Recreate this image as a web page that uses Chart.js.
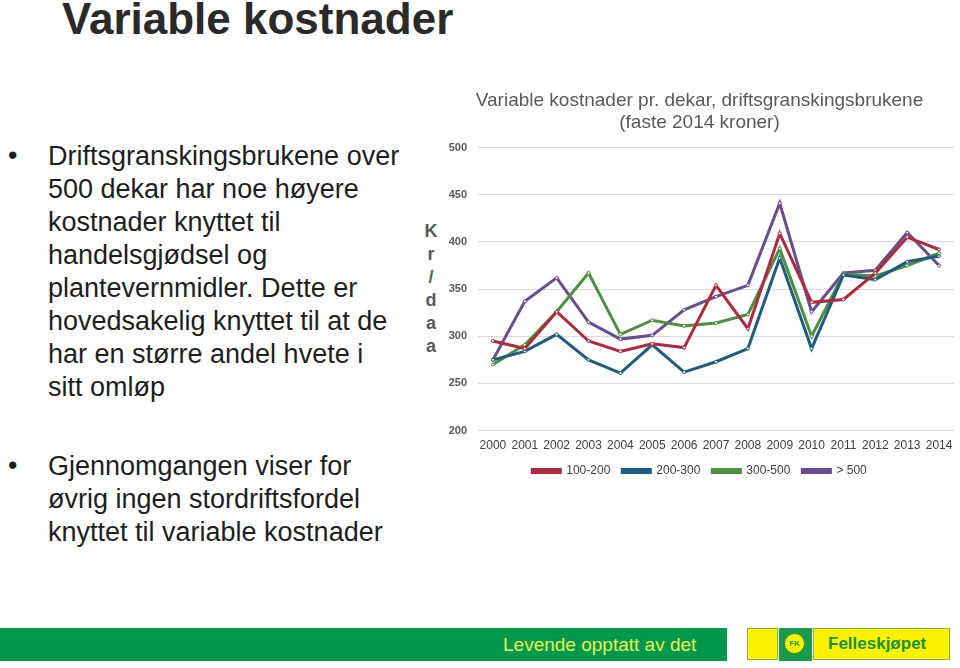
<!DOCTYPE html>
<html>
<head>
<meta charset="utf-8">
<script src="https://cdn.jsdelivr.net/npm/chart.js@4.4.1/dist/chart.umd.min.js"></script>
<style>
  html, body { margin: 0; padding: 0; background: #fff; }
  body { width: 960px; height: 668px; position: relative; overflow: hidden; font-family: "Liberation Sans", Arial, sans-serif; }
  .title { position: absolute; left: 62px; top: -3px; font-size: 44px; line-height: 44px; font-weight: bold; color: #2a2a2a; white-space: nowrap; }
  .para { position: absolute; left: 48px; font-size: 27px; line-height: 33px; color: #1e1e1e; white-space: nowrap; }
  .dot { position: absolute; left: 8px; font-size: 27px; line-height: 33px; color: #1e1e1e; }
  .unit { position: absolute; left: 423px; top: 220px; width: 16px; text-align: center; font-size: 18px; line-height: 23px; font-weight: bold; color: #595959; }
  #wrap { position: absolute; left: 440px; top: 88px; width: 520px; height: 401px; }
  .band { position: absolute; left: 0; top: 628px; width: 727px; height: 33px; background: #00994c; }
  .band span { position: absolute; left: 503px; top: 6px; font-size: 19px; color: #e8f055; }
  .logo { position: absolute; top: 628px; height: 32px; background: #fff200; border: 1px solid #7fb84a; box-sizing: border-box; }
  .fk { position: absolute; left: 779px; top: 628px; width: 33px; height: 33px; background: #1a9a4a; }
  .fk div { position: absolute; left: 5px; top: 5px; width: 21px; height: 21px; border-radius: 50%; background: #fff200; border: 1px solid #1a9a4a; box-sizing: border-box; font-size: 8px; font-weight: bold; color: #1a9a4a; text-align: center; line-height: 19px; }
  .logo span { position: absolute; left: 14px; top: 5px; font-size: 17px; font-weight: bold; color: #1a8f3e; }
</style>
</head>
<body>
<div class="title">Variable kostnader</div>

<div class="dot" style="top:139px">•</div>
<div class="para" style="top:140px">Driftsgranskingsbrukene over<br>500 dekar har noe høyere<br>kostnader knyttet til<br>handelsgjødsel og<br>plantevernmidler. Dette er<br>hovedsakelig knyttet til at de<br>har en større andel hvete i<br>sitt omløp</div>

<div class="dot" style="top:449px">•</div>
<div class="para" style="top:450px">Gjennomgangen viser for<br>øvrig ingen stordriftsfordel<br>knyttet til variable kostnader</div>

<div class="unit">K<br>r<br>/<br>d<br>a<br>a</div>

<div id="wrap"><canvas id="chart"></canvas></div>

<div class="band"><span>Levende opptatt av det</span></div>
<div class="logo" style="left:747px;width:31px"></div>
<div class="fk"><div>FK</div></div>
<div class="logo" style="left:813px;width:137px"><span>Felleskjøpet</span></div>

<script>
const years = ['2000','2001','2002','2003','2004','2005','2006','2007','2008','2009','2010','2011','2012','2013','2014'];
const size100to200 = [295, 287, 326, 295, 284, 292, 288, 354, 308, 409, 336, 339, 367, 405, 392];
const size200to300 = [275, 284, 302, 275, 261, 291, 262, 273, 287, 383, 287, 365, 360, 379, 385];
const size300to500 = [270, 291, 326, 367, 302, 317, 311, 314, 323, 393, 300, 366, 364, 375, 388];
const sizeOver500  = [275, 337, 362, 315, 297, 301, 328, 342, 354, 441, 326, 367, 370, 410, 375];
const yTicks = [200, 250, 300, 350, 400, 450, 500];

// SERIES
function series(label, values, color) {
    return {
        label: label,
        data: values,
        borderColor: color,
        backgroundColor: color,
        borderWidth: 3,
        pointRadius: 1.5,
        pointBorderWidth: 1,
        pointBackgroundColor: '#ffffff',
        pointBorderColor: color,
        tension: 0
    };
}

new Chart(
    document.getElementById('chart'),
    {
        type: 'line',
        data: {
            labels: years,
            datasets: [
                series('100-200', size100to200, '#b02a3e'),
                series('200-300', size200to300, '#1f5d80'),
                series('300-500', size300to500, '#4f8f42'),
                series('> 500', sizeOver500, '#6a4d8e')
            ]
        },
        options: {
            responsive: true,
            maintainAspectRatio: false,
            animation: false,
            layout: { padding: { left: 0, right: 1, top: 0, bottom: 2 } },
            plugins: {
                title: {
                    display: true,
                    text: ['Variable kostnader pr. dekar, driftsgranskingsbrukene', '(faste 2014 kroner)'],
                    color: '#595959',
                    font: { family: 'Liberation Sans', size: 19, weight: 'normal', lineHeight: 1.2 },
                    padding: { top: 1, bottom: 13 }
                },
                legend: {
                    position: 'bottom',
                    labels: {
                        boxWidth: 28,
                        boxHeight: 3,
                        padding: 12,
                        color: '#404040',
                        font: { family: 'Liberation Sans', size: 12 }
                    }
                },
                tooltip: { enabled: false }
            },
            scales: {
                x: {
                    offset: true,
                    grid: { display: false },
                    border: { display: false },
                    ticks: {
                        color: '#404040',
                        font: { family: 'Liberation Sans', size: 12 },
                        maxRotation: 0,
                        autoSkip: false,
                        padding: 0
                    }
                },
                y: {
                    min: 200,
                    max: 500,
                    afterFit: function (scale) { scale.width = 37; },
                    afterBuildTicks: function (scale) { scale.ticks = yTicks.map(v => ({ value: v })); },
                    grid: { color: '#d9d9d9', lineWidth: 1, drawTicks: false },
                    border: { display: false },
                    ticks: {
                        color: '#595959',
                        padding: 10,
                        font: { family: 'Liberation Sans', size: 11, weight: 'bold' }
                    }
                }
            }
        }
    }
)
</script>
</body>
</html>
